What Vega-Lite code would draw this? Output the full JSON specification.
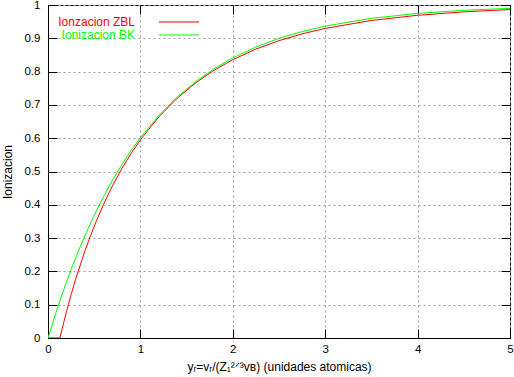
{
  "$schema": "https://vega.github.io/schema/vega-lite/v6.json",
  "width": 462,
  "height": 333,
  "autosize": "none",
  "padding": {"left": 48, "top": 5, "right": 4, "bottom": 39},
  "background": "white",
  "config": {
    "font": "Liberation Sans",
    "view": {"stroke": "black", "strokeWidth": 1},
    "axis": {
      "domainColor": "black",
      "tickColor": "black",
      "labelColor": "black",
      "titleColor": "black",
      "labelFont": "Liberation Sans",
      "titleFont": "Liberation Sans",
      "labelFontSize": 11.5,
      "titleFontSize": 12,
      "titleFontWeight": "normal",
      "gridColor": "#a0a0a0",
      "gridDash": [2, 3],
      "gridWidth": 1,
      "labelFlush": false,
      "labelOverlap": false
    }
  },
  "data": {
    "values": [
      {"s": "Ionzacion ZBL", "x": 0, "q": 0},
      {"s": "Ionzacion ZBL", "x": 0.129, "q": 0},
      {"s": "Ionzacion ZBL", "x": 0.15, "q": 0.0245},
      {"s": "Ionzacion ZBL", "x": 0.2, "q": 0.0792},
      {"s": "Ionzacion ZBL", "x": 0.25, "q": 0.1301},
      {"s": "Ionzacion ZBL", "x": 0.3, "q": 0.1773},
      {"s": "Ionzacion ZBL", "x": 0.4, "q": 0.262},
      {"s": "Ionzacion ZBL", "x": 0.5, "q": 0.336},
      {"s": "Ionzacion ZBL", "x": 0.6, "q": 0.4009},
      {"s": "Ionzacion ZBL", "x": 0.7, "q": 0.4583},
      {"s": "Ionzacion ZBL", "x": 0.8, "q": 0.5091},
      {"s": "Ionzacion ZBL", "x": 0.9, "q": 0.5546},
      {"s": "Ionzacion ZBL", "x": 1, "q": 0.5951},
      {"s": "Ionzacion ZBL", "x": 1.2, "q": 0.6643},
      {"s": "Ionzacion ZBL", "x": 1.4, "q": 0.7205},
      {"s": "Ionzacion ZBL", "x": 1.6, "q": 0.7665},
      {"s": "Ionzacion ZBL", "x": 1.8, "q": 0.8044},
      {"s": "Ionzacion ZBL", "x": 2, "q": 0.8357},
      {"s": "Ionzacion ZBL", "x": 2.25, "q": 0.8676},
      {"s": "Ionzacion ZBL", "x": 2.5, "q": 0.8929},
      {"s": "Ionzacion ZBL", "x": 2.75, "q": 0.9133},
      {"s": "Ionzacion ZBL", "x": 3, "q": 0.9297},
      {"s": "Ionzacion ZBL", "x": 3.5, "q": 0.9535},
      {"s": "Ionzacion ZBL", "x": 4, "q": 0.9691},
      {"s": "Ionzacion ZBL", "x": 4.5, "q": 0.9794},
      {"s": "Ionzacion ZBL", "x": 5, "q": 0.9863},
      {"s": "Ionizacion BK", "x": 0, "q": 0},
      {"s": "Ionizacion BK", "x": 0.1, "q": 0.0879},
      {"s": "Ionizacion BK", "x": 0.15, "q": 0.1289},
      {"s": "Ionizacion BK", "x": 0.2, "q": 0.1681},
      {"s": "Ionizacion BK", "x": 0.25, "q": 0.2055},
      {"s": "Ionizacion BK", "x": 0.3, "q": 0.2412},
      {"s": "Ionizacion BK", "x": 0.4, "q": 0.3079},
      {"s": "Ionizacion BK", "x": 0.5, "q": 0.3687},
      {"s": "Ionizacion BK", "x": 0.6, "q": 0.4242},
      {"s": "Ionizacion BK", "x": 0.7, "q": 0.4748},
      {"s": "Ionizacion BK", "x": 0.8, "q": 0.521},
      {"s": "Ionizacion BK", "x": 0.9, "q": 0.5631},
      {"s": "Ionizacion BK", "x": 1, "q": 0.6015},
      {"s": "Ionizacion BK", "x": 1.2, "q": 0.6685},
      {"s": "Ionizacion BK", "x": 1.4, "q": 0.7242},
      {"s": "Ionizacion BK", "x": 1.6, "q": 0.7705},
      {"s": "Ionizacion BK", "x": 1.8, "q": 0.8091},
      {"s": "Ionizacion BK", "x": 2, "q": 0.8412},
      {"s": "Ionizacion BK", "x": 2.25, "q": 0.8738},
      {"s": "Ionizacion BK", "x": 2.5, "q": 0.8997},
      {"s": "Ionizacion BK", "x": 2.75, "q": 0.9203},
      {"s": "Ionizacion BK", "x": 3, "q": 0.9367},
      {"s": "Ionizacion BK", "x": 3.5, "q": 0.96},
      {"s": "Ionizacion BK", "x": 4, "q": 0.9748},
      {"s": "Ionizacion BK", "x": 4.5, "q": 0.9841},
      {"s": "Ionizacion BK", "x": 5, "q": 0.9899}
    ]
  },
  "layer": [
    {
      "mark": {"type": "line", "strokeWidth": 1, "clip": true},
      "encoding": {
        "x": {
          "field": "x",
          "type": "quantitative",
          "scale": {"domain": [0, 5], "nice": false, "zero": false},
          "axis": {
            "orient": "bottom",
            "values": [0, 1, 2, 3, 4, 5],
            "grid": true,
            "tickSize": -9,
            "labelPadding": 14,
            "titlePadding": 7,
            "title": "yᵣ=vᵣ/(Z₁²ᐟ³vʙ) (unidades atomicas)"
          }
        },
        "y": {
          "field": "q",
          "type": "quantitative",
          "scale": {"domain": [0, 1], "nice": false, "zero": false},
          "axis": {
            "orient": "left",
            "values": [0, 0.1, 0.2, 0.3, 0.4, 0.5, 0.6, 0.7, 0.8, 0.9, 1],
            "format": "~g",
            "grid": true,
            "tickSize": -9,
            "labelPadding": 17,
            "titlePadding": 10,
            "title": "Ionizacion"
          }
        },
        "color": {
          "field": "s",
          "type": "nominal",
          "sort": ["Ionzacion ZBL", "Ionizacion BK"],
          "scale": {"domain": ["Ionzacion ZBL", "Ionizacion BK"], "range": ["#ff0000", "#00ff00"]},
          "legend": {
            "title": null,
            "orient": "none",
            "legendX": 125,
            "legendY": 11,
            "padding": 0,
            "symbolType": "M-4,0H4",
            "symbolSize": 100,
            "symbolStrokeWidth": 1,
            "symbolOpacity": 1,
            "labelAlign": "right",
            "labelOffset": -50,
            "labelFontSize": 12,
            "labelFont": "Liberation Sans",
            "rowPadding": 1,
            "labelLimit": 300,
            "encode": {
              "labels": {
                "update": {
                  "fill": [
                    {"test": "datum.value === 'Ionzacion ZBL'", "value": "#ff0000"},
                    {"value": "#00ff00"}
                  ]
                }
              }
            }
          }
        }
      }
    },
    {
      "mark": {"type": "line", "opacity": 0},
      "encoding": {
        "x": {
          "field": "x",
          "type": "quantitative",
          "axis": {"orient": "top", "values": [0, 1, 2, 3, 4, 5], "labels": false, "title": null, "grid": false, "tickSize": -9, "domain": false}
        },
        "y": {
          "field": "q",
          "type": "quantitative",
          "axis": {"orient": "right", "values": [0, 0.1, 0.2, 0.3, 0.4, 0.5, 0.6, 0.7, 0.8, 0.9, 1], "labels": false, "title": null, "grid": false, "tickSize": -9, "domain": false}
        }
      }
    }
  ],
  "resolve": {"axis": {"x": "independent", "y": "independent"}}
}
